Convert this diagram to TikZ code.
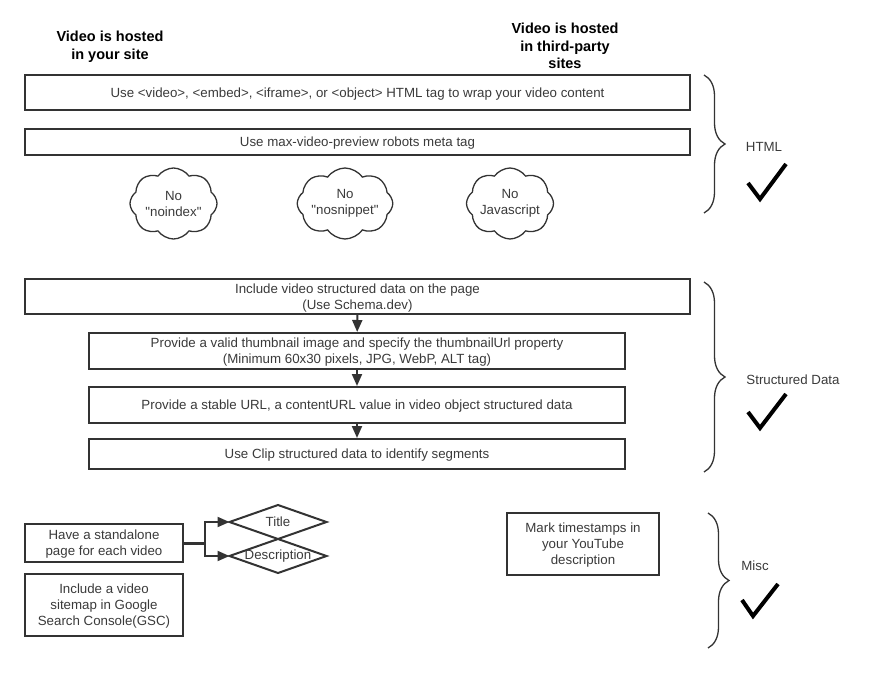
\documentclass[tikz,border=0pt]{standalone}
\usepackage{fontspec}
\setmainfont{Liberation Sans}
\usepackage{tikz}
\usetikzlibrary{shapes.geometric,shapes.symbols,decorations.pathreplacing,arrows.meta}
\definecolor{edge}{HTML}{333333}
\definecolor{ink}{HTML}{3A3A3A}

\begin{document}
\begin{tikzpicture}[x=1pt, y=-1pt,
    box/.style={draw=edge, line width=2pt, text=ink, align=center, inner sep=1pt,
      text depth=0pt, font=\fontsize{13.3}{16}\selectfont},
    head/.style={align=center, font=\bfseries\fontsize{14.5}{17.5}\selectfont},
    side/.style={text=ink, font=\fontsize{13.3}{15}\selectfont},
    puff/.style={cloud, cloud puffs=8, cloud puff arc=110, cloud ignores aspect,
      draw=edge, line width=1.3pt, inner sep=0pt,
      minimum width=87pt, minimum height=71pt, text=ink, align=center,
      font=\fontsize{13.3}{16}\selectfont},
    gem/.style={diamond, draw=edge, line width=2pt, minimum width=97pt, minimum height=34pt,
      inner sep=0pt, outer sep=0pt, aspect=2.9},
    gemtext/.style={text=ink, inner sep=0pt, font=\fontsize{13.3}{15}\selectfont},
    brc/.style={draw=edge, line width=1.3pt, decorate, decoration={brace, amplitude=21pt}},
    tick/.style={line width=4pt, black, miter limit=10},
    flow/.style={draw=edge, line width=2pt, -{Triangle[length=12pt, width=10pt]}}]

    \useasboundingbox (0,0) rectangle (878,674);

    \node[head] (h1) at (110, 47) {Video is hosted\\in your site};
    \node[head] (h2) at (565, 46) {Video is hosted\\in third-party\\sites};

    % HTML
    \node[box, minimum width=665pt, minimum height=35pt] (a) at (357.5, 93)
      {Use <video>, <embed>, <iframe>, or <object> HTML tag to wrap your video content};
    \node[box, minimum width=665pt, minimum height=26pt] (b) at (357.5, 142)
      {Use max-video-preview robots meta tag};
    \node[puff] (c1) at (173.5, 203.5) {No\\\textquotedbl noindex\textquotedbl};
    \node[puff] (c2) at (345, 203.5) {No\\\textquotedbl nosnippet\textquotedbl};
    \node[puff] (c3) at (510, 203.5) {No\\Javascript};

    \draw[brc] (704, 75) -- (704, 213);
    \node[side] (l1) at (764, 147) {HTML};
    \draw[tick] (748, 183) -- (760, 199) -- (786, 164);

    % Structured data
    \node[box, minimum width=665pt, minimum height=35pt] (d) at (357.5, 296.5)
      {Include video structured data on the page\\(Use Schema.dev)};
    \node[box, minimum width=536pt, minimum height=36pt] (e) at (357, 351)
      {Provide a valid thumbnail image and specify the thumbnailUrl property\\(Minimum 60x30 pixels, JPG, WebP, ALT tag)};
    \node[box, minimum width=536pt, minimum height=36pt] (f) at (357, 405)
      {Provide a stable URL, a contentURL value in video object structured data};
    \node[box, minimum width=536pt, minimum height=30pt] (g) at (357, 454)
      {Use Clip structured data to identify segments};

    \draw[flow] (d) -- (e);
    \draw[flow] (e) -- (f);
    \draw[flow] (f) -- (g);

    \draw[brc] (704, 282) -- (704, 472);
    \node[side] (l2) at (793, 380) {Structured Data};
    \draw[tick] (748, 412) -- (760, 428) -- (786, 394);

    % Misc
    \node[box, minimum width=158pt, minimum height=38pt] (m) at (104, 543)
      {Have a standalone\\page for each video};
    \node[box, minimum width=158pt, minimum height=62pt] (n) at (104, 605)
      {Include a video\\sitemap in Google\\Search Console(GSC)};
    \node[gem, label={[gemtext]center:Title}] (t) at (278, 522) {};
    \node[gem, label={[gemtext]center:Description}] (s) at (278, 556) {};
    \coordinate (j) at (205, 543);
    \draw[draw=edge, line width=3pt] (m) -- (j);
    \draw[flow] (j) |- (t.west);
    \draw[flow] (j) |- (s.west);

    \node[box, minimum width=152pt, minimum height=62pt] (p) at (583, 544)
      {Mark timestamps in\\your YouTube\\description};

    \draw[brc] (708, 513) -- (708, 648);
    \node[side] (l3) at (755, 566) {Misc};
    \draw[tick] (742, 600) -- (753, 616) -- (778, 584);

\end{tikzpicture}
\end{document}
